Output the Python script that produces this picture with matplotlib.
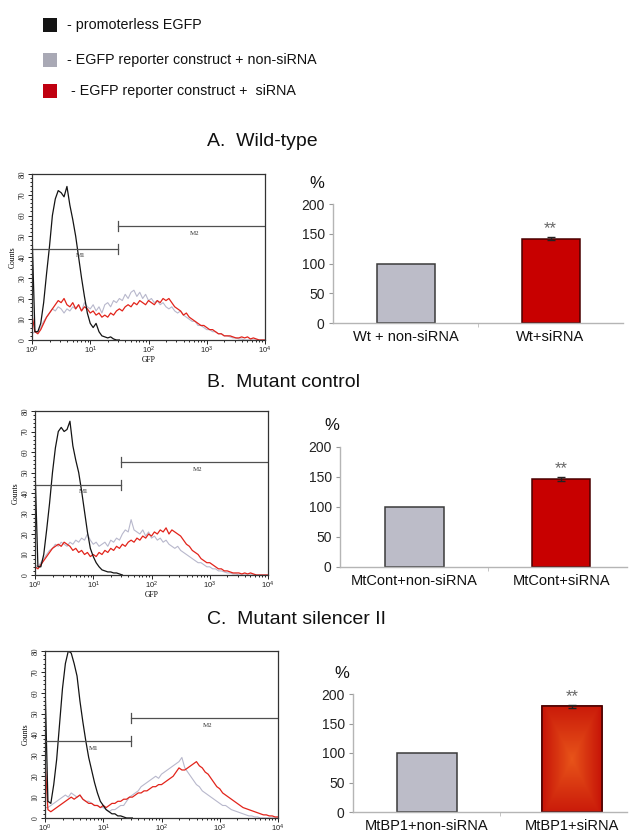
import numpy as np
import matplotlib
matplotlib.use('Agg')
import matplotlib.pyplot as plt
from matplotlib.patches import Rectangle
from matplotlib.ticker import MultipleLocator, LogLocator, NullFormatter, LogFormatterMathtext

plt.rcParams['font.family'] = ['Liberation Sans', 'DejaVu Sans']
plt.rcParams['mathtext.fontset'] = 'stix'

W, H = 637, 834

# ---------------- data ----------------
legend_labels = ["- promoterless EGFP",
                 "- EGFP reporter construct + non-siRNA",
                 " - EGFP reporter construct +  siRNA"]
panel_titles = ["A.  Wild-type", "B.  Mutant control", "C.  Mutant silencer II"]

# histogram channel positions (log10 of GFP intensity)
log_gfp = np.round(np.arange(0, 4.001, 0.05), 2)        # 81 channels
log_gfp_black = np.round(np.arange(0, 1.501, 0.05), 2)  # 31 channels

A_black = [52, 4, 4, 8, 18, 32, 45, 60, 68, 72,
           71, 69, 74, 65, 58, 50, 40, 30, 21, 13,
           8, 6, 8, 4, 2, 1.5, 1, 1.5, 0.5, 0, 0]
A_gray = [3, 4, 4, 6, 9, 11, 13, 15, 14, 16,
          15, 13, 15, 14, 16, 15, 17, 14, 18, 16,
          15, 17, 14, 16, 13, 17, 18, 16, 19, 18,
          20, 19, 22, 20, 23, 24, 21, 23, 20, 22,
          19, 20, 18, 19, 17, 18, 16, 15, 16, 14,
          13, 14, 12, 11, 10, 9, 9, 7, 7, 6,
          5, 5, 4, 4, 3, 3, 2, 2, 1.5, 1,
          1, 0.5, 0.5, 0, 0, 0, 0, 0, 0, 0, 0]
A_red = [12, 4, 3, 5, 8, 11, 13, 15, 17, 19,
         18, 20, 17, 16, 18, 15, 17, 14, 16, 15,
         13, 14, 12, 13, 11, 12, 11, 13, 12, 14,
         15, 14, 16, 17, 16, 18, 17, 19, 18, 17,
         19, 18, 17, 19, 18, 20, 19, 20, 18, 16,
         15, 14, 12, 13, 11, 10, 9, 8, 7, 7,
         6, 5, 5, 4, 3, 3, 2, 2, 2, 1.5,
         1, 1, 1.5, 1, 1.5, 0.5, 1, 0.5, 0, 0, 0]

B_black = [52, 4, 4, 10, 22, 35, 50, 62, 70, 72,
           70, 71, 75, 63, 56, 50, 41, 31, 21, 13,
           9, 6, 4, 2.5, 2, 1.5, 1.5, 1, 1, 0.5, 0]
B_gray = [5, 4, 6, 8, 10, 12, 13, 15, 14, 16,
          15, 14, 16, 15, 17, 16, 18, 17, 20, 17,
          15, 16, 14, 15, 16, 14, 17, 16, 18, 17,
          20, 22, 21, 27, 22, 21, 20, 22, 19, 21,
          18, 19, 17, 18, 16, 17, 15, 14, 13, 14,
          12, 11, 10, 9, 8, 7, 6, 6, 5, 4,
          4, 3, 3, 2, 2, 1.5, 1, 1, 0.5, 0.5,
          0, 0, 0, 0, 0, 0, 0, 0, 0, 0, 0]
B_red = [4, 3, 5, 7, 9, 11, 13, 14, 15, 14,
         16, 15, 14, 12, 13, 11, 12, 10, 11, 9,
         10, 9, 11, 10, 12, 11, 13, 12, 14, 13,
         15, 14, 16, 17, 16, 18, 17, 19, 18, 20,
         19, 21, 20, 22, 21, 23, 20, 22, 21, 20,
         19, 17, 15, 14, 12, 11, 10, 8, 7, 6,
         6, 5, 4, 3, 3, 2, 2, 1.5, 1, 1,
         1, 0.5, 1, 0.5, 1, 0.5, 0, 0, 0, 0, 0]

C_black = [65, 8, 7, 16, 28, 45, 62, 74, 80, 79,
           74, 68, 56, 46, 37, 29, 23, 17, 12, 8,
           6, 4, 3, 2, 2, 1, 1, 0.5, 0, 0, 0]
C_gray = [5, 5, 6, 7, 8, 9, 10, 11, 10, 12,
          11, 10, 11, 9, 8, 8, 7, 6, 6, 5,
          5, 4, 3, 4, 4, 5, 6, 6, 8, 10,
          11, 12, 13, 15, 16, 17, 18, 19, 20, 19,
          21, 22, 23, 24, 25, 26, 27, 29, 24, 22,
          20, 18, 16, 15, 13, 12, 11, 10, 9, 8,
          7, 6, 6, 5, 4, 3.5, 3, 2.5, 2, 1.5,
          1, 1, 0.5, 0.5, 0, 0, 0, 0, 0, 0, 0]
C_red = [28, 4, 3, 4, 5, 6, 7, 8, 9, 10,
         9, 10, 11, 9, 8, 7, 7, 6, 6, 5,
         6, 5, 6, 7, 7, 8, 8, 9, 9, 10,
         10, 11, 12, 12, 13, 13, 14, 15, 15, 16,
         16, 17, 18, 19, 20, 22, 24, 23, 23, 24,
         25, 26, 27, 25, 24, 22, 21, 19, 17, 15,
         14, 12, 11, 10, 9, 8, 7, 6, 5, 4.5,
         4, 3.5, 3, 2.5, 2, 1.5, 1.5, 1, 1, 0.5, 0.5]

# marker gates (M1: 10^0 .. gate, M2: gate .. 10^4), levels in counts
gate_edge = 30
M1_levels = [44, 44, 37]
M2_levels = [55, 55, 48]

bar_categories = [["Wt + non-siRNA", "Wt+siRNA"],
                  ["MtCont+non-siRNA", "MtCont+siRNA"],
                  ["MtBP1+non-siRNA", "MtBP1+siRNA"]]
bar_values = [[100, 142], [100, 147], [100, 179]]
bar_errors = [[0, 3], [0, 3], [0, 3]]
bar_yticks = [0, 50, 100, 150, 200]

# ---------------- style ----------------
C_BLACK = '#141414'
C_GRAY_LINE = '#b8b8cc'
C_RED_LINE = '#e2241b'
C_GRAY_BAR = '#bcbcc8'
C_RED_BAR = '#c80000'

fig = plt.figure(figsize=(W / 100, H / 100), dpi=100)


def px_axes(left, right, top, bottom):
    return fig.add_axes([left / W, 1 - bottom / H, (right - left) / W, (bottom - top) / H])


# legend
sq_colors = [C_BLACK, '#a9a9b5', '#c00010']
sq_tops = [18, 53, 84]
for col, top, lab in zip(sq_colors, sq_tops, legend_labels):
    fig.patches.append(Rectangle((43 / W, 1 - (top + 14) / H), 14 / W, 14 / H,
                                 transform=fig.transFigure, facecolor=col, edgecolor='none'))
    fig.text(67 / W, 1 - (top + 7) / H, lab, fontsize=10.3, va='center', ha='left', color='#111')

# panel titles
for title, y in zip(panel_titles, [142, 382, 620]):
    fig.text(207 / W, 1 - y / H, title, fontsize=14, va='center', ha='left', color='#111')


def draw_hist(ax, blk, gry, red, m1, m2, show_xlabel=True):
    ax.plot(10 ** log_gfp, gry, color=C_GRAY_LINE, lw=0.8)
    ax.plot(10 ** log_gfp, red, color=C_RED_LINE, lw=0.9)
    ax.plot(10 ** log_gfp_black, blk, color=C_BLACK, lw=0.9)
    ax.set_xscale('log')
    ax.set_xlim(1, 1e4)
    ax.set_ylim(0, 80)
    # markers
    mc = '#505050'
    ax.plot([1, gate_edge], [m1, m1], color=mc, lw=0.9)
    ax.plot([gate_edge, gate_edge], [m1 - 2.5, m1 + 2.5], color=mc, lw=0.9)
    ax.plot([gate_edge, 1e4], [m2, m2], color=mc, lw=0.9)
    ax.plot([gate_edge, gate_edge], [m2 - 2.5, m2 + 2.5], color=mc, lw=0.9)
    ax.text(10 ** 0.83, m1 - 3.5, 'M1', fontsize=5, family='Liberation Serif', ha='center', va='center', color='#333')
    ax.text(10 ** 2.8, m2 - 3.5, 'M2', fontsize=5, family='Liberation Serif', ha='center', va='center', color='#333')
    ax.set_yticks(range(0, 81, 10))
    ax.yaxis.set_minor_locator(MultipleLocator(2))
    ax.xaxis.set_major_locator(LogLocator(base=10, numticks=10))
    ax.xaxis.set_minor_locator(LogLocator(base=10, subs=np.arange(2, 10), numticks=10))
    ax.xaxis.set_minor_formatter(NullFormatter())
    ax.xaxis.set_major_formatter(LogFormatterMathtext())
    ax.tick_params(which='major', direction='out', length=3, width=0.7, labelsize=5.5, pad=1, colors='#222')
    ax.tick_params(axis='x', which='major', pad=0.5)
    ax.tick_params(which='minor', direction='out', length=1.5, width=0.6)
    for lab in ax.get_yticklabels():
        lab.set_rotation(90)
        lab.set_va('center')
        lab.set_family('Liberation Serif')
    ax.set_ylabel('Counts', fontsize=5.5, family='Liberation Serif', labelpad=1)
    if show_xlabel:
        ax.set_xlabel('GFP', fontsize=5.5, family='Liberation Serif', labelpad=0)
    for s in ax.spines.values():
        s.set_linewidth(0.9)
        s.set_color('#333')


def draw_bar(ax, cats, vals, errs, xlim, width, gradient=False):
    x = np.arange(len(cats))
    bars = ax.bar(x, vals, width=width, color=[C_GRAY_BAR, C_RED_BAR],
                  edgecolor=['#3a3a3a', '#4a0000'], linewidth=1.1, zorder=2)
    if gradient:
        b = bars[1]
        gx, gy = np.meshgrid(np.linspace(-1, 1, 60), np.linspace(-1, 1, 100))
        r = np.clip(np.maximum(np.abs(gx), np.abs(gy) * 0.9), 0, 1)
        c0 = np.array([0.91, 0.33, 0.10])
        c1 = np.array([0.78, 0.08, 0.03])
        img = c0[None, None, :] * (1 - r[..., None]) + c1[None, None, :] * r[..., None]
        xlo, ylo = b.get_x(), b.get_y()
        im = ax.imshow(img, extent=[xlo, xlo + b.get_width(), ylo, ylo + b.get_height()],
                       aspect='auto', zorder=2.1, interpolation='bilinear')
        im.set_clip_path(b)
        ax.bar([x[1]], [vals[1]], width=width, color='none', edgecolor='#4a0000', linewidth=1.1, zorder=2.2)
    ax.errorbar(x[1], vals[1], yerr=errs[1], fmt='none', ecolor='#222', capsize=3,
                elinewidth=1, capthick=1, zorder=3)
    ax.text(x[1], vals[1] + errs[1] + 14, '**', ha='center', va='center', fontsize=12, color='#666')
    ax.set_xlim(*xlim)
    ax.set_ylim(0, 200)
    ax.set_yticks(bar_yticks)
    ax.set_xticks(x)
    ax.set_xticklabels(cats, fontsize=10.5, color='#111')
    ax.set_xticks([0.5], minor=True)
    ax.tick_params(axis='x', which='major', length=0, pad=5)
    ax.tick_params(axis='x', which='minor', length=3, color='#bbb')
    ax.tick_params(axis='y', length=3, color='#999', labelsize=10, labelcolor='#222', pad=3)
    for s in ['top', 'right']:
        ax.spines[s].set_visible(False)
    for s in ['left', 'bottom']:
        ax.spines[s].set_color('#b5b5b5')
        ax.spines[s].set_linewidth(1)


hist_boxes = [(32, 265, 174, 340), (35, 268, 411, 575), (45, 278, 651, 818)]
hist_data = [(A_black, A_gray, A_red), (B_black, B_gray, B_red), (C_black, C_gray, C_red)]
for i, (box, d) in enumerate(zip(hist_boxes, hist_data)):
    ax = px_axes(*box)
    draw_hist(ax, *d, M1_levels[i], M2_levels[i], show_xlabel=(i < 2))

bar_boxes = [(333, 623, 204, 323), (340, 627, 447, 567), (353, 627, 694, 812)]
bar_xlims = [(-0.5, 1.5), (-0.51, 1.45), (-0.51, 1.377)]
bar_widths = [0.4, 0.4, 0.41]
pct_pos = [(317, 183), (332, 425), (342, 673)]
for i in range(3):
    ax = px_axes(*bar_boxes[i])
    draw_bar(ax, bar_categories[i], bar_values[i], bar_errors[i], bar_xlims[i], bar_widths[i],
             gradient=(i == 2))
    fig.text(pct_pos[i][0] / W, 1 - pct_pos[i][1] / H, '%', fontsize=12, ha='center', va='center', color='#111')

fig.savefig('out.png', dpi=100, facecolor='white')
